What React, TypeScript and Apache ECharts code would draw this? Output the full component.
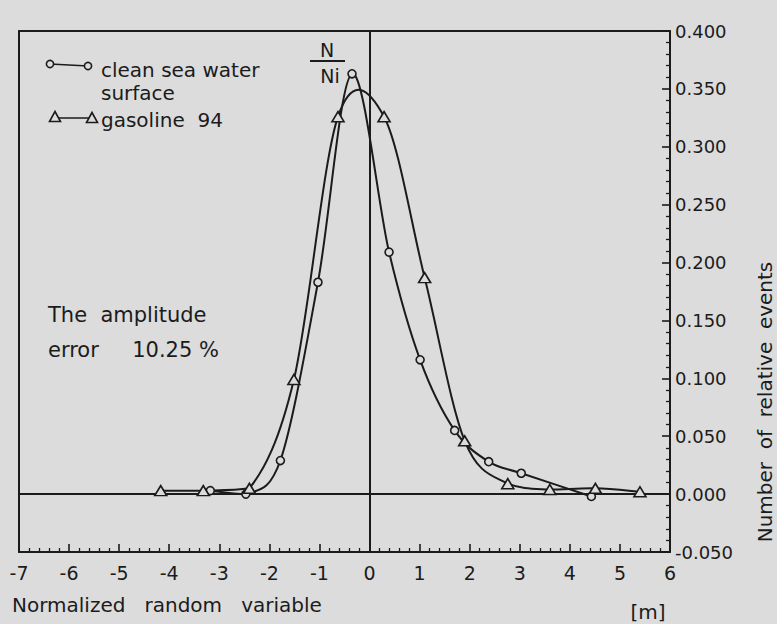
import React, { useEffect, useRef } from "react";
import * as echarts from "echarts";

// ---- data ----
const seaWaterX = [-3.18, -2.47, -1.78, -1.03, -0.35, 0.39, 1.01, 1.7, 2.38, 3.03, 4.43];
const seaWaterY = [0.003, 0.0, 0.029, 0.183, 0.363, 0.209, 0.116, 0.055, 0.028, 0.018, -0.002];
const gasolineX = [-4.17, -3.32, -2.4, -1.51, -0.63, 0.29, 1.1, 1.9, 2.76, 3.6, 4.51, 5.4];
const gasolineY = [0.003, 0.003, 0.005, 0.099, 0.326, 0.326, 0.187, 0.046, 0.009, 0.004, 0.005, 0.002];
const xMin = -7;
const xMax = 6;
const yMin = -0.05;
const yMax = 0.4;
const yStep = 0.05;

const INK = "#1b1b1b";
const BG = "#dcdcdc";
const FONT = "DejaVu Sans";

function splinePath(pts: number[][]): string {
  let d = `M${pts[0][0]},${pts[0][1]}`;
  for (let i = 0; i < pts.length - 1; i++) {
    const p0 = pts[i - 1] || pts[i];
    const p1 = pts[i];
    const p2 = pts[i + 1];
    const p3 = pts[i + 2] || pts[i + 1];
    let c1x = p1[0] + (p2[0] - p0[0]) / 6;
    let c1y = p1[1] + (p2[1] - p0[1]) / 6;
    let c2x = p2[0] - (p3[0] - p1[0]) / 6;
    let c2y = p2[1] - (p3[1] - p1[1]) / 6;
    const low = Math.max(p1[1], p2[1]);
    c1y = Math.min(c1y, low);
    c2y = Math.min(c2y, low);
    const lx = Math.min(p1[0], p2[0]);
    const hx = Math.max(p1[0], p2[0]);
    c1x = Math.max(lx, Math.min(hx, c1x));
    c2x = Math.max(lx, Math.min(hx, c2x));
    d += ` C${c1x},${c1y} ${c2x},${c2y} ${p2[0]},${p2[1]}`;
  }
  return d;
}

function curveSeries(xs: number[], ys: number[]) {
  return {
    type: "custom",
    coordinateSystem: "cartesian2d",
    data: [[xs[0], ys[0]]],
    encode: { x: 0, y: 1 },
    silent: true,
    z: 2,
    renderItem: (_params: any, api: any) => {
      const pts = xs.map((x, i) => api.coord([x, ys[i]]));
      return {
        type: "path",
        shape: { pathData: splinePath(pts) },
        style: { fill: "none", stroke: INK, lineWidth: 2 },
      };
    },
  };
}

export default function App() {
  const ref = useRef<HTMLDivElement>(null);
  useEffect(() => {
    if (!ref.current) return;
    const chart = echarts.init(ref.current, null, { renderer: "svg" });
    const tri = (x: number, y: number) => ({
      type: "polygon",
      shape: { points: [[x - 5.5, y + 4.5], [x + 5.5, y + 4.5], [x, y - 5.5]] },
      style: { fill: BG, stroke: INK, lineWidth: 1.6 },
      z: 10,
    });
    const circ = (x: number, y: number) => ({
      type: "circle",
      shape: { cx: x, cy: y, r: 3.6 },
      style: { fill: BG, stroke: INK, lineWidth: 1.6 },
      z: 10,
    });
    const txt = (text: string, x: number, y: number, size: number, extra: any = {}) => ({
      type: "text",
      x,
      y,
      z: 10,
      style: {
        text,
        fill: INK,
        font: `${size}px "${FONT}"`,
        verticalAlign: "middle",
        align: "left",
        ...extra,
      },
    });
    chart.setOption({
      animation: false,
      backgroundColor: BG,
      textStyle: { fontFamily: FONT, color: INK },
      grid: { left: 19, right: 107, top: 31, bottom: 72 },
      xAxis: [
        {
          type: "value",
          min: xMin,
          max: xMax,
          interval: 1,
          position: "bottom",
          axisLine: { onZero: false, lineStyle: { color: INK, width: 2 } },
          axisTick: { inside: true, length: 8, lineStyle: { color: INK, width: 1.6 } },
          minorTick: { show: true, splitNumber: 5, length: 4, lineStyle: { color: INK, width: 1.3 } },
          axisLabel: { color: INK, fontSize: 19, margin: 11, fontFamily: FONT },
          splitLine: { show: false },
        },
        {
          type: "value",
          min: xMin,
          max: xMax,
          position: "top",
          axisLine: { onZero: false, lineStyle: { color: INK, width: 2 } },
          axisTick: { show: false },
          axisLabel: { show: false },
          splitLine: { show: false },
        },
      ],
      yAxis: [
        {
          type: "value",
          min: yMin,
          max: yMax,
          interval: yStep,
          position: "right",
          axisLine: { show: true, onZero: false, lineStyle: { color: INK, width: 2 } },
          axisTick: { show: true, inside: true, length: 8, lineStyle: { color: INK, width: 1.6 } },
          minorTick: { show: true, splitNumber: 5, length: 4, lineStyle: { color: INK, width: 1.3 } },
          axisLabel: {
            color: INK,
            fontSize: 18,
            margin: 5,
            fontFamily: FONT,
            formatter: (v: number) => v.toFixed(3),
          },
          splitLine: { show: false },
        },
        {
          type: "value",
          min: yMin,
          max: yMax,
          position: "left",
          axisLine: { show: true, onZero: false, lineStyle: { color: INK, width: 2 } },
          axisTick: { show: false },
          axisLabel: { show: false },
          splitLine: { show: false },
        },
      ],
      series: [
        curveSeries(seaWaterX, seaWaterY),
        curveSeries(gasolineX, gasolineY),
        {
          type: "scatter",
          name: "clean sea water surface",
          data: seaWaterX.map((x, i) => [x, seaWaterY[i]]),
          symbol: "circle",
          symbolSize: 8,
          itemStyle: { color: BG, borderColor: INK, borderWidth: 1.6, opacity: 1 },
          z: 5,
          silent: true,
          markLine: {
            silent: true,
            symbol: "none",
            label: { show: false },
            lineStyle: { color: INK, width: 2, type: "solid" },
            data: [{ xAxis: 0 }, { yAxis: 0 }],
          },
        },
        {
          type: "scatter",
          name: "gasoline 94",
          data: gasolineX.map((x, i) => [x, gasolineY[i]]),
          symbol: "triangle",
          symbolSize: [12, 10],
          itemStyle: { color: BG, borderColor: INK, borderWidth: 1.6, opacity: 1 },
          z: 5,
          silent: true,
        },
      ],
      graphic: [
        { type: "line", shape: { x1: 50, y1: 64, x2: 88, y2: 66 }, style: { stroke: INK, lineWidth: 1.6 }, z: 9 },
        circ(50, 64),
        circ(88, 66),
        txt("clean sea water", 101, 70, 20),
        txt("surface", 101, 93, 20),
        { type: "line", shape: { x1: 55, y1: 118, x2: 92, y2: 118 }, style: { stroke: INK, lineWidth: 1.6 }, z: 9 },
        tri(55, 117),
        tri(92, 118),
        txt("gasoline  94", 101, 120, 20),
        txt("N", 327, 50, 19, { align: "center" }),
        { type: "line", shape: { x1: 310, y1: 61, x2: 345, y2: 61 }, style: { stroke: INK, lineWidth: 1.8 }, z: 9 },
        txt("Ni", 330, 76, 19, { align: "center" }),
        txt("The  amplitude", 48, 315, 21),
        txt("error     10.25 %", 48, 350, 21),
        txt("Normalized   random   variable", 12, 605, 20),
        txt("[m]", 648, 612, 20, { align: "center" }),
        {
          type: "text",
          x: 765,
          y: 402,
          rotation: Math.PI / 2,
          z: 10,
          style: {
            text: "Number  of  relative  events",
            fill: INK,
            font: `20px "${FONT}"`,
            align: "center",
            verticalAlign: "middle",
          },
        },
      ],
    });
    return () => chart.dispose();
  }, []);
  return (
    <div
      ref={ref}
      style={{ position: "absolute", left: 0, top: 0, width: 777, height: 624 }}
    />
  );
}
